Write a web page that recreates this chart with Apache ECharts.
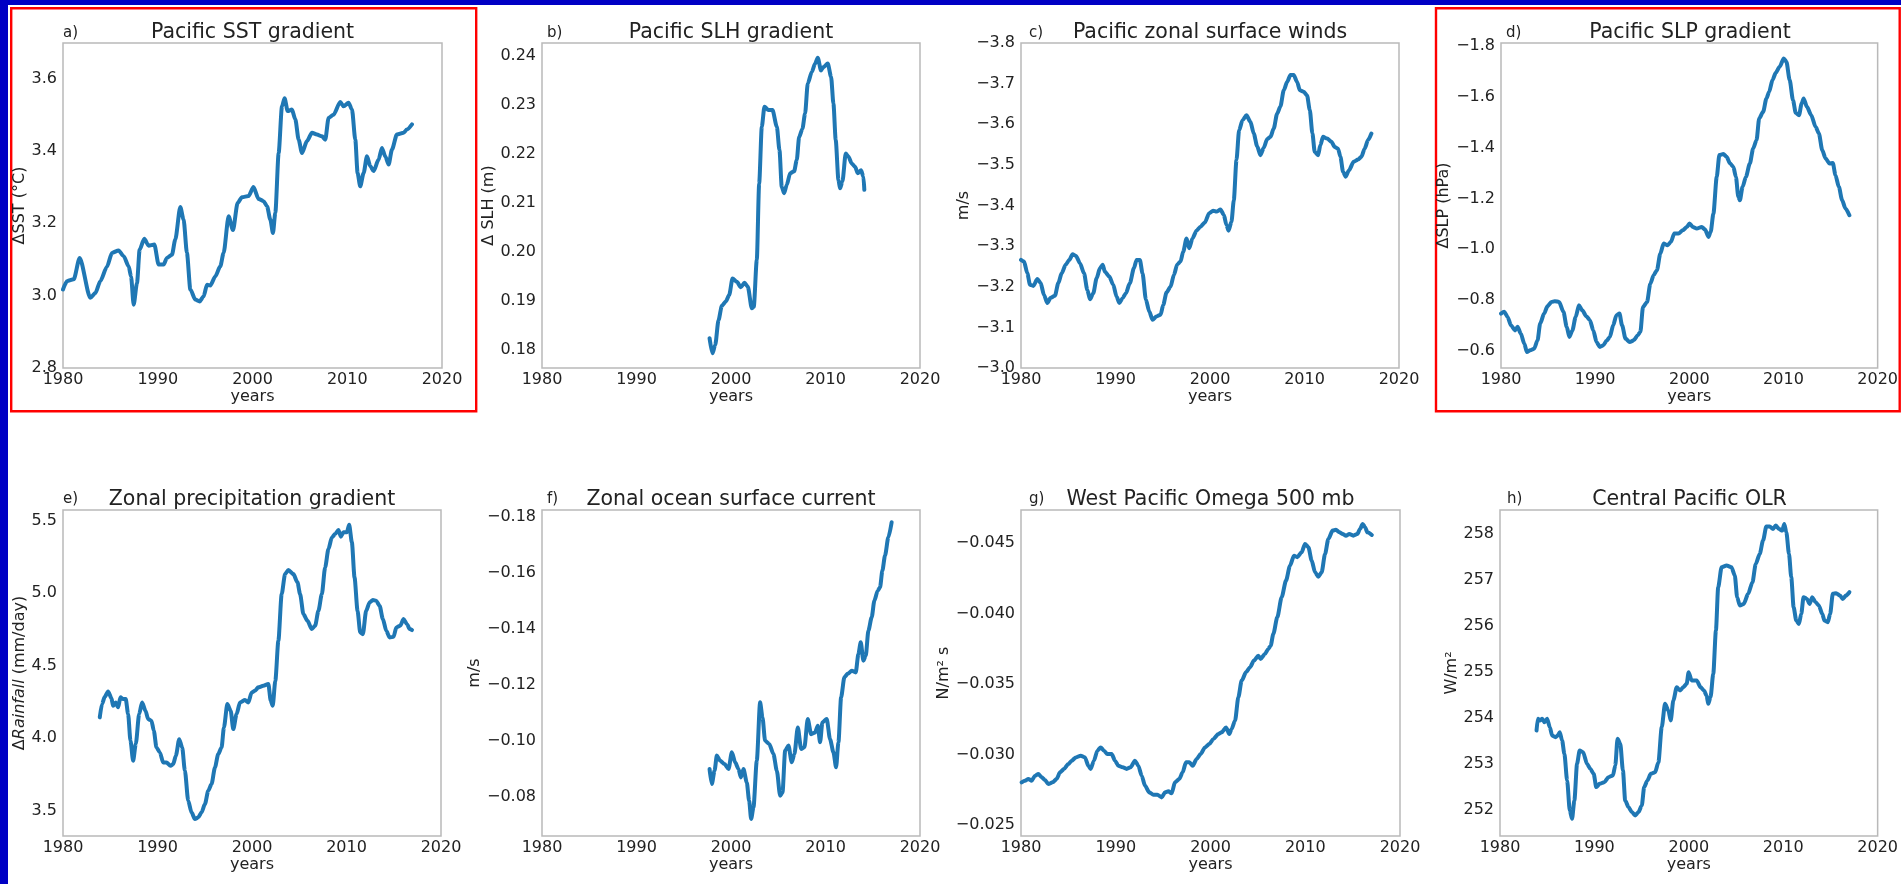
<!DOCTYPE html>
<html>
<head>
<meta charset="utf-8">
<style>
  html, body { margin: 0; padding: 0; background: #ffffff; }
  #chart { width: 1901px; height: 884px; }
</style>
<script src="https://cdn.jsdelivr.net/npm/echarts@6/dist/echarts.min.js"></script>
</head>
<body>
<div id="chart"></div>
<script>
// ---- shared x axis ----
const xTicks = [1980, 1990, 2000, 2010, 2020];

// ---- a) Pacific SST gradient (°C) ----
const sstGradient = [
  [1980.0,3.017],[1980.42,3.04],[1981.13,3.045],[1981.76,3.104],[1982.88,2.994],[1983.41,3.007],[1983.94,3.04],
  [1984.64,3.08],[1985.17,3.118],[1985.87,3.125],[1986.40,3.109],[1986.93,3.081],[1987.18,3.053],[1987.46,2.975],
  [1987.81,3.035],[1988.09,3.127],[1988.58,3.157],[1989.04,3.138],[1989.64,3.141],[1990.09,3.086],[1990.62,3.086],
  [1990.97,3.104],[1991.50,3.113],[1991.85,3.155],[1992.38,3.245],[1992.73,3.21],[1993.08,3.118],[1993.44,3.017],
  [1993.96,2.989],[1994.42,2.984],[1994.84,2.998],[1995.20,3.03],[1995.55,3.028],[1996.07,3.053],[1996.60,3.081],
  [1996.95,3.118],[1997.48,3.219],[1997.94,3.181],[1998.43,3.256],[1998.89,3.272],[1999.59,3.275],[2000.10,3.30],
  [2000.65,3.267],[2001.17,3.261],[2001.53,3.247],[2001.88,3.21],[2002.16,3.173],[2002.41,3.229],[2002.76,3.394],
  [2003.11,3.523],[2003.39,3.545],[2003.71,3.51],[2004.16,3.514],[2004.52,3.487],[2004.87,3.431],[2005.22,3.394],
  [2005.75,3.427],[2006.28,3.45],[2006.80,3.445],[2007.33,3.44],[2007.68,3.431],[2008.03,3.491],[2008.56,3.50],
  [2009.26,3.535],[2009.62,3.523],[2010.14,3.533],[2010.50,3.514],[2010.85,3.431],[2011.09,3.339],[2011.37,3.302],
  [2011.73,3.339],[2012.08,3.385],[2012.43,3.358],[2012.78,3.344],[2013.31,3.376],[2013.66,3.408],[2014.01,3.385],
  [2014.37,3.362],[2014.72,3.404],[2015.24,3.445],[2015.95,3.45],[2016.30,3.459],[2016.83,3.473]
];
const sstTicks = [2.8, 3.0, 3.2, 3.4, 3.6];

// ---- b) Pacific SLH gradient (m) ----
const slhGradient = [
  [1997.73,0.1824],[1998.04,0.1793],[1998.33,0.181],[1998.68,0.1861],[1999.03,0.189],[1999.45,0.1899],[1999.81,0.1912],
  [2000.16,0.1946],[2000.62,0.1939],[2001.04,0.1928],[2001.43,0.1937],[2001.78,0.1929],[2002.20,0.1885],[2002.41,0.1888],
  [2002.73,0.1984],[2002.98,0.214],[2003.26,0.2256],[2003.54,0.2297],[2003.96,0.229],[2004.39,0.229],[2004.85,0.2256],
  [2005.13,0.2208],[2005.37,0.2133],[2005.62,0.212],[2005.90,0.2137],[2006.26,0.2161],[2006.68,0.2165],[2006.96,0.2188],
  [2007.21,0.2235],[2007.56,0.2252],[2007.84,0.2283],[2008.12,0.2344],[2008.55,0.2368],[2008.90,0.2385],[2009.18,0.2397],
  [2009.53,0.2371],[2009.78,0.2378],[2010.24,0.2385],[2010.59,0.2358],[2010.84,0.2303],[2011.08,0.2229],[2011.37,0.2147],
  [2011.54,0.213],[2011.79,0.2144],[2012.14,0.2201],[2012.42,0.2195],[2012.78,0.2181],[2013.13,0.2174],[2013.41,0.2161],
  [2013.76,0.2167],[2014.01,0.2154],[2014.11,0.2127]
];
const slhTicks = [0.18, 0.19, 0.20, 0.21, 0.22, 0.23, 0.24];

// ---- c) Pacific zonal surface winds (m/s) ----
const zonalWinds = [
  [1980.0,-3.266],[1980.32,-3.262],[1980.67,-3.233],[1980.95,-3.205],[1981.30,-3.202],[1981.73,-3.219],[1982.08,-3.209],
  [1982.43,-3.180],[1982.78,-3.160],[1983.14,-3.173],[1983.59,-3.178],[1983.95,-3.209],[1984.30,-3.233],[1984.72,-3.254],
  [1985.11,-3.266],[1985.46,-3.280],[1985.82,-3.276],[1986.24,-3.258],[1986.67,-3.233],[1987.02,-3.192],[1987.30,-3.169],
  [1987.65,-3.184],[1988.00,-3.221],[1988.36,-3.246],[1988.64,-3.254],[1988.88,-3.237],[1989.34,-3.225],[1989.76,-3.205],
  [1990.11,-3.176],[1990.40,-3.160],[1990.75,-3.172],[1991.10,-3.184],[1991.52,-3.209],[1991.95,-3.246],[1992.23,-3.266],
  [1992.58,-3.266],[1992.86,-3.233],[1993.22,-3.168],[1993.57,-3.139],[1993.92,-3.119],[1994.34,-3.127],[1994.77,-3.131],
  [1995.05,-3.155],[1995.40,-3.186],[1995.82,-3.200],[1996.18,-3.229],[1996.53,-3.255],[1996.88,-3.262],[1997.16,-3.286],
  [1997.52,-3.319],[1997.80,-3.295],[1998.15,-3.319],[1998.57,-3.338],[1999.00,-3.348],[1999.45,-3.358],[1999.91,-3.381],
  [2000.33,-3.387],[2000.69,-3.385],[2001.11,-3.390],[2001.46,-3.377],[2001.74,-3.352],[2001.96,-3.338],[2002.27,-3.360],
  [2002.52,-3.413],[2002.80,-3.512],[2003.08,-3.585],[2003.44,-3.610],[2003.86,-3.622],[2004.28,-3.606],[2004.63,-3.577],
  [2004.99,-3.546],[2005.34,-3.524],[2005.69,-3.542],[2006.04,-3.563],[2006.40,-3.569],[2006.75,-3.590],[2007.10,-3.626],
  [2007.45,-3.644],[2007.81,-3.684],[2008.16,-3.704],[2008.51,-3.721],[2008.86,-3.721],[2009.22,-3.704],[2009.50,-3.684],
  [2009.92,-3.680],[2010.27,-3.671],[2010.56,-3.635],[2010.84,-3.577],[2011.08,-3.532],[2011.44,-3.524],[2011.68,-3.549],
  [2011.96,-3.569],[2012.39,-3.565],[2012.85,-3.557],[2013.20,-3.544],[2013.55,-3.540],[2013.80,-3.520],[2014.08,-3.483],
  [2014.36,-3.471],[2014.71,-3.487],[2015.21,-3.508],[2015.67,-3.513],[2016.02,-3.520],[2016.37,-3.540],[2016.72,-3.561],
  [2017.08,-3.577]
];
const windTicks = [-3.8, -3.7, -3.6, -3.5, -3.4, -3.3, -3.2, -3.1, -3.0];

// ---- d) Pacific SLP gradient (hPa) ----
const slpGradient = [
  [1980.0,-0.747],[1980.35,-0.754],[1980.70,-0.734],[1981.06,-0.701],[1981.48,-0.681],[1981.76,-0.695],[1982.11,-0.668],
  [1982.47,-0.629],[1982.75,-0.596],[1983.10,-0.603],[1983.52,-0.609],[1983.88,-0.642],[1984.16,-0.708],[1984.58,-0.747],
  [1984.93,-0.776],[1985.36,-0.793],[1985.71,-0.796],[1986.17,-0.793],[1986.63,-0.754],[1986.98,-0.695],[1987.26,-0.655],
  [1987.58,-0.681],[1987.93,-0.734],[1988.28,-0.780],[1988.63,-0.760],[1989.06,-0.737],[1989.44,-0.721],[1989.80,-0.681],
  [1990.15,-0.635],[1990.50,-0.616],[1990.85,-0.622],[1991.21,-0.640],[1991.56,-0.655],[1991.91,-0.701],[1992.26,-0.741],
  [1992.58,-0.747],[1992.86,-0.701],[1993.22,-0.649],[1993.67,-0.635],[1994.10,-0.642],[1994.52,-0.662],[1994.80,-0.675],
  [1995.08,-0.773],[1995.51,-0.793],[1995.86,-0.865],[1996.21,-0.898],[1996.56,-0.918],[1996.92,-0.983],[1997.27,-1.023],
  [1997.69,-1.016],[1998.04,-1.029],[1998.40,-1.062],[1998.85,-1.062],[1999.31,-1.075],[1999.74,-1.088],[2000.02,-1.102],
  [2000.37,-1.088],[2000.79,-1.082],[2001.32,-1.088],[2001.67,-1.078],[2002.03,-1.049],[2002.27,-1.069],[2002.56,-1.141],
  [2002.91,-1.285],[2003.19,-1.371],[2003.61,-1.375],[2003.96,-1.364],[2004.32,-1.338],[2004.67,-1.325],[2004.95,-1.285],
  [2005.20,-1.207],[2005.37,-1.193],[2005.66,-1.246],[2006.01,-1.285],[2006.43,-1.338],[2006.78,-1.397],[2007.14,-1.430],
  [2007.42,-1.515],[2007.84,-1.541],[2008.19,-1.594],[2008.48,-1.620],[2008.83,-1.666],[2009.18,-1.695],[2009.60,-1.719],
  [2010.03,-1.751],[2010.31,-1.738],[2010.66,-1.666],[2011.01,-1.587],[2011.30,-1.537],[2011.65,-1.528],[2011.93,-1.574],
  [2012.14,-1.594],[2012.49,-1.561],[2012.95,-1.528],[2013.41,-1.482],[2013.76,-1.456],[2014.12,-1.390],[2014.47,-1.358],
  [2014.89,-1.338],[2015.24,-1.340],[2015.52,-1.292],[2015.88,-1.246],[2016.23,-1.193],[2016.58,-1.161],[2017.00,-1.134]
];
const slpTicks = [-1.8, -1.6, -1.4, -1.2, -1.0, -0.8, -0.6];

// ---- e) Zonal precipitation gradient (mm/day) ----
const precipGradient = [
  [1983.89,4.144],[1984.13,4.236],[1984.42,4.286],[1984.77,4.323],[1985.12,4.277],[1985.30,4.224],[1985.58,4.247],
  [1985.83,4.213],[1986.08,4.282],[1986.36,4.270],[1986.64,4.270],[1986.89,4.167],[1987.14,3.983],[1987.42,3.845],
  [1987.70,3.960],[1988.06,4.167],[1988.37,4.247],[1988.73,4.190],[1989.01,4.132],[1989.36,4.121],[1989.61,4.052],
  [1989.89,3.937],[1990.25,3.902],[1990.60,3.833],[1990.95,3.833],[1991.38,3.810],[1991.66,3.822],[1991.94,3.879],
  [1992.30,3.994],[1992.61,3.937],[1992.90,3.776],[1993.25,3.569],[1993.60,3.489],[1993.96,3.443],[1994.31,3.454],
  [1994.66,3.489],[1995.02,3.546],[1995.37,3.638],[1995.72,3.684],[1996.08,3.799],[1996.43,3.891],[1996.78,3.937],
  [1997.03,4.075],[1997.39,4.236],[1997.74,4.190],[1998.02,4.063],[1998.37,4.167],[1998.73,4.247],[1999.26,4.263],
  [1999.61,4.247],[1999.96,4.316],[2000.32,4.328],[2000.67,4.351],[2001.20,4.362],[2001.73,4.374],[2001.98,4.259],
  [2002.19,4.224],[2002.47,4.397],[2002.79,4.672],[2003.14,4.994],[2003.50,5.132],[2003.85,5.160],[2004.38,5.132],
  [2004.81,5.075],[2005.09,4.994],[2005.44,4.856],[2005.87,4.810],[2006.33,4.753],[2006.68,4.776],[2007.03,4.879],
  [2007.39,4.994],[2007.74,5.178],[2008.09,5.305],[2008.45,5.385],[2008.80,5.408],[2009.15,5.436],[2009.40,5.390],
  [2009.68,5.420],[2010.04,5.420],[2010.28,5.472],[2010.57,5.351],[2010.85,5.109],[2011.17,4.879],[2011.45,4.730],
  [2011.73,4.718],[2012.08,4.879],[2012.44,4.937],[2012.79,4.953],[2013.14,4.948],[2013.50,4.914],[2013.85,4.822],
  [2014.21,4.741],[2014.56,4.695],[2014.98,4.700],[2015.27,4.764],[2015.69,4.776],[2016.04,4.822],[2016.40,4.787],
  [2016.68,4.753],[2016.93,4.746]
];
const precipTicks = [3.5, 4.0, 4.5, 5.0, 5.5];

// ---- f) Zonal ocean surface current (m/s) ----
const oceanCurrent = [
  [1997.73,-0.0898],[1997.97,-0.0844],[1998.26,-0.0892],[1998.50,-0.0946],[1998.85,-0.0928],[1999.31,-0.0916],
  [1999.74,-0.0898],[2000.09,-0.0958],[2000.44,-0.0922],[2000.79,-0.0898],[2001.04,-0.0868],[2001.32,-0.0898],
  [2001.67,-0.0850],[2001.92,-0.0784],[2002.13,-0.0719],[2002.38,-0.0761],[2002.73,-0.0928],[2003.08,-0.1137],
  [2003.33,-0.1083],[2003.61,-0.0999],[2004.04,-0.0988],[2004.49,-0.0952],[2004.85,-0.0892],[2005.20,-0.0802],
  [2005.45,-0.0814],[2005.73,-0.0964],[2006.08,-0.0982],[2006.43,-0.0922],[2006.71,-0.0952],[2007.07,-0.1047],
  [2007.42,-0.0970],[2007.77,-0.0976],[2008.12,-0.1077],[2008.48,-0.1023],[2008.90,-0.1029],[2009.18,-0.1053],
  [2009.43,-0.0994],[2009.67,-0.1065],[2010.13,-0.1077],[2010.48,-0.1005],[2010.84,-0.0958],[2011.12,-0.0904],
  [2011.37,-0.0994],[2011.65,-0.1155],[2012.00,-0.1227],[2012.35,-0.1239],[2012.78,-0.1250],[2013.20,-0.1244],
  [2013.48,-0.1310],[2013.73,-0.1352],[2014.01,-0.1286],[2014.26,-0.1304],[2014.54,-0.1394],[2014.89,-0.1442],
  [2015.17,-0.1501],[2015.52,-0.1537],[2015.77,-0.1549],[2016.02,-0.1609],[2016.30,-0.1663],[2016.65,-0.1728],
  [2017.00,-0.1782]
];
const currentTicks = [-0.18, -0.16, -0.14, -0.12, -0.10, -0.08];

// ---- g) West Pacific Omega 500 mb (N/m² s) ----
const omega500 = [
  [1980.07,-0.02803],[1980.42,-0.02815],[1980.77,-0.02827],[1981.13,-0.02815],[1981.48,-0.02850],[1981.83,-0.02862],
  [1982.18,-0.02839],[1982.53,-0.02820],[1982.88,-0.02791],[1983.34,-0.02803],[1983.76,-0.02827],[1984.12,-0.02874],
  [1984.54,-0.02898],[1985.00,-0.02933],[1985.35,-0.02957],[1985.80,-0.02980],[1986.30,-0.02992],[1986.75,-0.02980],
  [1987.11,-0.02921],[1987.35,-0.02898],[1987.70,-0.02957],[1988.06,-0.03028],[1988.41,-0.03051],[1988.76,-0.03028],
  [1989.11,-0.03004],[1989.57,-0.03004],[1989.92,-0.02957],[1990.27,-0.02921],[1990.73,-0.02910],[1991.15,-0.02898],
  [1991.57,-0.02910],[1992.03,-0.02957],[1992.38,-0.02921],[1992.74,-0.02850],[1993.09,-0.02779],[1993.54,-0.02732],
  [1993.97,-0.02715],[1994.39,-0.02715],[1994.85,-0.02696],[1995.20,-0.02732],[1995.55,-0.02739],[1995.90,-0.02725],
  [1996.25,-0.02803],[1996.71,-0.02827],[1997.06,-0.02874],[1997.41,-0.02945],[1997.77,-0.02945],[1998.12,-0.02921],
  [1998.54,-0.02969],[1998.96,-0.03004],[1999.42,-0.03051],[1999.88,-0.03075],[2000.30,-0.03111],[2000.83,-0.03146],
  [2001.18,-0.03158],[2001.64,-0.03193],[2001.99,-0.03146],[2002.23,-0.03182],[2002.59,-0.03241],[2002.94,-0.03407],
  [2003.29,-0.03525],[2003.75,-0.03584],[2004.17,-0.03620],[2004.59,-0.03667],[2005.05,-0.03702],[2005.29,-0.03679],
  [2005.75,-0.03714],[2006.10,-0.03750],[2006.35,-0.03773],[2006.63,-0.03856],[2007.05,-0.03975],[2007.51,-0.04117],
  [2007.97,-0.04235],[2008.39,-0.04341],[2008.81,-0.04412],[2009.16,-0.04401],[2009.62,-0.04436],[2009.97,-0.04495],
  [2010.33,-0.04472],[2010.68,-0.04377],[2011.03,-0.04294],[2011.38,-0.04263],[2011.73,-0.04294],[2012.09,-0.04424],
  [2012.44,-0.04531],[2012.89,-0.04590],[2013.24,-0.04595],[2013.60,-0.04578],[2013.95,-0.04566],[2014.30,-0.04554],
  [2014.65,-0.04566],[2015.07,-0.04554],[2015.50,-0.04566],[2015.78,-0.04602],[2016.06,-0.04637],[2016.31,-0.04614],
  [2016.56,-0.04578],[2017.02,-0.04559]
];
const omegaTicks = [-0.045, -0.040, -0.035, -0.030, -0.025];

// ---- h) Central Pacific OLR (W/m²) ----
const centralOlr = [
  [1983.87,253.725],[1984.01,253.978],[1984.22,253.942],[1984.47,253.978],[1984.71,253.906],[1984.99,253.978],
  [1985.28,253.797],[1985.52,253.616],[1985.88,253.580],[1986.12,253.616],[1986.33,253.688],[1986.58,253.507],
  [1986.82,253.217],[1987.11,252.638],[1987.39,251.986],[1987.63,251.804],[1987.88,252.203],[1988.16,253.0],
  [1988.44,253.290],[1988.80,253.254],[1989.22,253.0],[1989.57,252.891],[1989.92,252.783],[1990.20,252.493],
  [1990.55,252.565],[1991.05,252.601],[1991.50,252.710],[1991.96,252.746],[1992.21,252.964],[1992.45,253.543],
  [1992.74,253.435],[1993.02,252.855],[1993.26,252.203],[1993.61,252.058],[1993.97,251.949],[1994.32,251.877],
  [1994.67,251.949],[1995.02,252.094],[1995.27,252.493],[1995.62,252.638],[1995.97,252.783],[1996.43,252.819],
  [1996.78,253.036],[1997.13,253.797],[1997.48,254.304],[1997.84,254.159],[1998.08,253.942],[1998.36,254.377],
  [1998.72,254.667],[1999.07,254.594],[1999.42,254.667],[1999.77,254.739],[1999.98,254.993],[2000.30,254.812],
  [2000.83,254.812],[2001.25,254.667],[2001.60,254.594],[2001.88,254.486],[2002.06,254.304],[2002.30,254.449],
  [2002.59,254.957],[2002.87,255.899],[2003.11,256.841],[2003.47,257.275],[2004.00,257.312],[2004.52,257.275],
  [2004.87,257.094],[2005.12,256.623],[2005.40,256.442],[2005.82,256.478],[2006.28,256.696],[2006.74,256.949],
  [2007.09,257.348],[2007.51,257.565],[2007.86,257.855],[2008.21,258.159],[2008.57,258.159],[2008.92,258.109],
  [2009.20,258.181],[2009.55,258.109],[2009.90,258.072],[2010.11,258.217],[2010.33,258.036],[2010.61,257.565],
  [2010.85,257.058],[2011.10,256.406],[2011.38,256.116],[2011.66,256.043],[2011.91,256.261],[2012.15,256.623],
  [2012.51,256.587],[2012.79,256.478],[2013.07,256.623],[2013.42,256.514],[2013.77,256.442],[2014.13,256.261],
  [2014.37,256.116],[2014.72,256.080],[2014.97,256.261],[2015.25,256.696],[2015.60,256.710],[2016.02,256.659],
  [2016.30,256.587],[2016.65,256.659],[2017.01,256.732]
];
const olrTicks = [252, 253, 254, 255, 256, 257, 258];

// ---- panel definitions ----
const panels = [
  { tag: 'a)', title: 'Pacific SST gradient', yName: 'ΔSST (°C)', data: sstGradient, ticks: sstTicks, range: [2.8, 3.698], digits: 1, inverse: false },
  { tag: 'b)', title: 'Pacific SLH gradient', yName: 'Δ SLH (m)', data: slhGradient, ticks: slhTicks, range: [0.1763, 0.2427], digits: 2, inverse: false },
  { tag: 'c)', title: 'Pacific zonal surface winds', yName: 'm/s', data: zonalWinds, ticks: windTicks, range: [-3.8, -3.0], digits: 1, inverse: true },
  { tag: 'd)', title: 'Pacific SLP gradient', yName: 'ΔSLP (hPa)', data: slpGradient, ticks: slpTicks, range: [-1.812, -0.533], digits: 1, inverse: true },
  { tag: 'e)', title: 'Zonal precipitation gradient', yName: '{n|Δ}{i|Rainfall}{n| (mm/day)}', data: precipGradient, ticks: precipTicks, range: [3.326, 5.574], digits: 1, inverse: false },
  { tag: 'f)', title: 'Zonal ocean surface current', yName: 'm/s', data: oceanCurrent, ticks: currentTicks, range: [-0.1826, -0.0658], digits: 2, inverse: true },
  { tag: 'g)', title: 'West Pacific Omega 500 mb', yName: 'N/m² s', data: omega500, ticks: omegaTicks, range: [-0.04736, -0.02422], digits: 3, inverse: true },
  { tag: 'h)', title: 'Central Pacific OLR', yName: 'W/m²', data: centralOlr, ticks: olrTicks, range: [251.43, 258.52], digits: 0, inverse: false }
];

// ---- page layout (pixels) ----
const layout = [
  { left: 63,   top: 43,  width: 379, height: 325, nameGap: 33, tagX: 63 },
  { left: 542,  top: 43,  width: 378, height: 325, nameGap: 44, tagX: 547 },
  { left: 1021, top: 43,  width: 378, height: 325, nameGap: 45, tagX: 1029 },
  { left: 1501, top: 43,  width: 378, height: 325, nameGap: 47, tagX: 1506 },
  { left: 63,   top: 510, width: 378, height: 326, nameGap: 33, tagX: 63 },
  { left: 542,  top: 510, width: 378, height: 326, nameGap: 57, tagX: 547 },
  { left: 1021, top: 510, width: 379, height: 326, nameGap: 68, tagX: 1029 },
  { left: 1500, top: 510, width: 379, height: 326, nameGap: 39, tagX: 1507 }
];

const FONT_FAMILY = '"DejaVu Sans", "Liberation Sans", sans-serif';
const TEXT = '#222222';
const LINE = '#1f77b4';
const FRAME = '#b9b9b9';

const fmt = (v, d) => v.toFixed(d).replace('-', '\u2212');

const grids = [], xAxes = [], yAxes = [], series = [], graphics = [];

// slide backdrop: blue strips on the left and top edges
graphics.push({ type: 'rect', shape: { x: 0, y: 0, width: 8, height: 884 }, style: { fill: '#0000c4' }, silent: true });
graphics.push({ type: 'rect', shape: { x: 0, y: 0, width: 1901, height: 5 }, style: { fill: '#0000c4' }, silent: true });
// red highlight frames around panels a and d
graphics.push({ type: 'rect', shape: { x: 11.2, y: 8.3, width: 465, height: 402.9 }, style: { fill: 'none', stroke: '#ff0000', lineWidth: 2.4 }, silent: true });
graphics.push({ type: 'rect', shape: { x: 1436, y: 8.3, width: 463.7, height: 402.9 }, style: { fill: 'none', stroke: '#ff0000', lineWidth: 2.4 }, silent: true });

panels.forEach((p, i) => {
  const L = layout[i];
  grids.push({
    left: L.left, top: L.top, width: L.width, height: L.height,
    show: true, borderColor: FRAME, borderWidth: 1.5, backgroundColor: '#ffffff'
  });
  xAxes.push({
    type: 'value', gridIndex: i, min: 1980, max: 2020, interval: 10,
    name: 'years', nameLocation: 'middle', nameGap: 21,
    nameTextStyle: { fontFamily: FONT_FAMILY, fontSize: 16, color: TEXT },
    axisLine: { show: false }, axisTick: { show: false }, splitLine: { show: false },
    axisLabel: { customValues: xTicks, margin: 4, fontFamily: FONT_FAMILY, fontSize: 16, color: TEXT, formatter: v => String(Math.round(v)) }
  });
  yAxes.push({
    type: 'value', gridIndex: i, min: p.range[0], max: p.range[1], inverse: p.inverse,
    name: p.yName, nameLocation: 'middle', nameGap: L.nameGap,
    nameTextStyle: {
      fontFamily: FONT_FAMILY, fontSize: 16, color: TEXT,
      rich: {
        n: { fontFamily: FONT_FAMILY, fontSize: 16, color: TEXT },
        i: { fontFamily: FONT_FAMILY, fontSize: 16, color: TEXT, fontStyle: 'italic' }
      }
    },
    axisLine: { show: false }, axisTick: { show: false }, splitLine: { show: false },
    axisLabel: { customValues: p.ticks, margin: 6, fontFamily: FONT_FAMILY, fontSize: 16, color: TEXT, formatter: v => fmt(v, p.digits) }
  });
  series.push({
    type: 'line', xAxisIndex: i, yAxisIndex: i, data: p.data,
    showSymbol: false, symbol: 'none', smooth: 0.25, smoothMonotone: 'x', clip: true,
    lineStyle: { color: LINE, width: 4, cap: 'round', join: 'round' }
  });
  const row = i < 4 ? 0 : 1;
  graphics.push({
    type: 'text', x: L.left + L.width / 2, y: row ? 499.3 : 32.2, silent: true,
    style: { text: p.title, font: '20.5px ' + FONT_FAMILY, fill: TEXT, align: 'center', verticalAlign: 'middle', textAlign: 'center', textVerticalAlign: 'middle' }
  });
  graphics.push({
    type: 'text', x: L.tagX, y: row ? 498.8 : 32.8, silent: true,
    style: { text: p.tag, font: '15px ' + FONT_FAMILY, fill: TEXT, align: 'left', verticalAlign: 'middle', textAlign: 'left', textVerticalAlign: 'middle' }
  });
});

const chart = echarts.init(document.getElementById('chart'), null, { renderer: 'canvas' });
chart.setOption({
  animation: false,
  backgroundColor: '#ffffff',
  grid: grids,
  xAxis: xAxes,
  yAxis: yAxes,
  series: series,
  graphic: { elements: graphics }
});
</script>
</body>
</html>
